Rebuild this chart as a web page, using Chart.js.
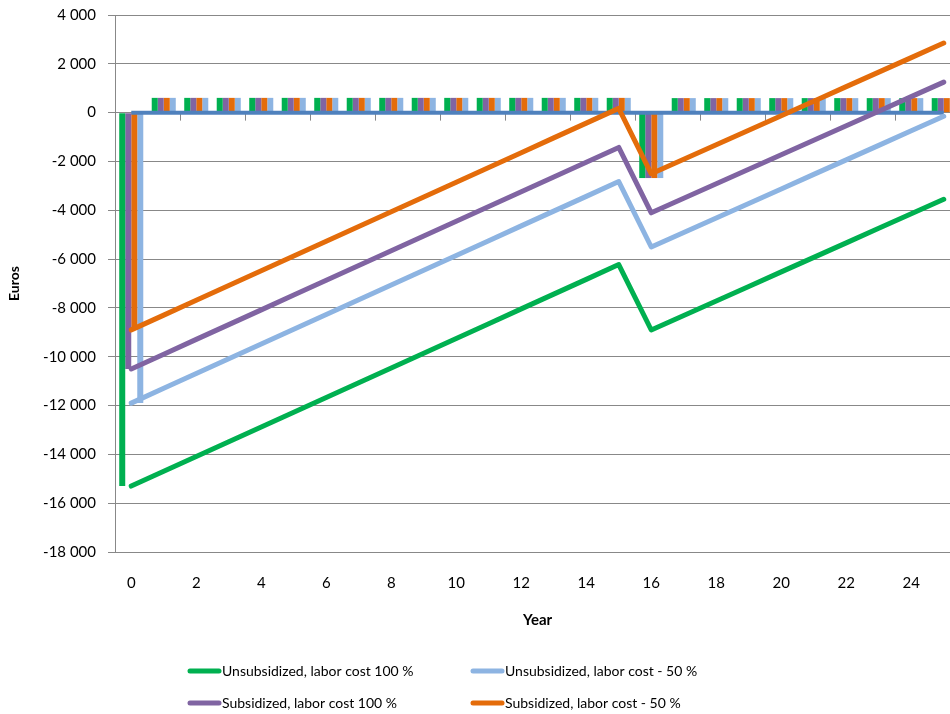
<!DOCTYPE html>
<html>
<head>
<meta charset="utf-8">
<script src="https://cdn.jsdelivr.net/npm/chart.js@4/dist/chart.umd.min.js"></script>
<style>
  html, body { margin: 0; padding: 0; background: #ffffff; overflow: hidden; }
  #wrap { width: 960px; height: 714px; }
</style>
</head>
<body>
<div id="wrap"><canvas id="chart" width="960" height="714"></canvas></div>
<script>
// Project years
const years = ['0','1','2','3','4','5','6','7','8','9','10','11','12','13','14','15','16','17','18','19','20','21','22','23','24','25'];

// Annual cash flow per scenario (euros)
const flowUnsub100 = [-15300,605,605,605,605,605,605,605,605,605,605,605,605,605,605,605,-2680,595,595,595,595,595,595,595,595,595];
const flowSub100   = [-10500,605,605,605,605,605,605,605,605,605,605,605,605,605,605,605,-2680,595,595,595,595,595,595,595,595,595];
const flowSub50    = [-8900,605,605,605,605,605,605,605,605,605,605,605,605,605,605,605,-2680,595,595,595,595,595,595,595,595,595];
const flowUnsub50  = [-11900,605,605,605,605,605,605,605,605,605,605,605,605,605,605,605,-2680,595,595,595,595,595,595,595,595,595];

// Cumulative cash position per scenario (euros)
const cumUnsub100 = [-15300,-14695,-14090,-13485,-12880,-12275,-11670,-11065,-10460,-9855,-9250,-8645,-8040,-7435,-6830,-6225,-8905,-8310,-7715,-7120,-6525,-5930,-5335,-4740,-4145,-3550];
const cumUnsub50  = [-11900,-11295,-10690,-10085,-9480,-8875,-8270,-7665,-7060,-6455,-5850,-5245,-4640,-4035,-3430,-2825,-5505,-4910,-4315,-3720,-3125,-2530,-1935,-1340,-745,-150];
const cumSub100   = [-10500,-9895,-9290,-8685,-8080,-7475,-6870,-6265,-5660,-5055,-4450,-3845,-3240,-2635,-2030,-1425,-4105,-3510,-2915,-2320,-1725,-1130,-535,60,655,1250];
const cumSub50    = [-8900,-8295,-7690,-7085,-6480,-5875,-5270,-4665,-4060,-3455,-2850,-2245,-1640,-1035,-430,175,-2505,-1910,-1315,-720,-125,470,1065,1660,2255,2850];

// Break-even reference
const breakEven = [0,0,0,0,0,0,0,0,0,0,0,0,0,0,0,0,0,0,0,0,0,0,0,0,0,0];

// Axis bounds and step
const yMin = -18000, yMax = 4000, yStep = 2000;

const GREEN = '#00B050', PURPLE = '#8064A2', ORANGE = '#E46C0A', LIGHTBLUE = '#8DB4E2', STEEL = '#4F81BD';
const GRID = '#888888';
const FONT = 'Lato, "Open Sans", sans-serif';

function fmt(v) {
  const s = Math.abs(v).toString().replace(/\B(?=(\d{3})+(?!\d))/g, ' ');
  return (v < 0 ? '-' : '') + s;
}

function barSet(data, color) {
  return { type: 'bar', data, backgroundColor: color, borderWidth: 0, order: 3,
           categoryPercentage: 0.74, barPercentage: 1.0, inLegend: false };
}
function lineSet(label, data, color) {
  return { type: 'line', label, data, borderColor: color, backgroundColor: color, borderWidth: 5,
           pointRadius: 0, tension: 0, fill: false, borderCapStyle: 'round', borderJoinStyle: 'round',
           order: 0, inLegend: true };
}

// Small tick marks on the break-even line, every two years between categories
const zeroTicks = {
  id: 'zeroTicks',
  beforeDatasetsDraw(chart) {
    const { ctx, scales: { x, y } } = chart;
    const y0 = y.getPixelForValue(0);
    ctx.save();
    ctx.strokeStyle = GRID;
    ctx.lineWidth = 1;
    for (let i = 1; i < years.length - 1; i += 2) {
      const px = Math.round((x.getPixelForTick(i) + x.getPixelForTick(i + 1)) / 2) + 0.5;
      ctx.beginPath();
      ctx.moveTo(px, y0);
      ctx.lineTo(px, y0 + 8);
      ctx.stroke();
    }
    ctx.restore();
  }
};

// Two-column legend below the axis
const gridLegend = {
  id: 'gridLegend',
  afterDraw(chart) {
    const { ctx } = chart;
    const items = chart.data.datasets.filter(d => d.inLegend);
    const cols = [188, 471], rows = [671, 703];
    ctx.save();
    ctx.font = '14px ' + FONT;
    ctx.textBaseline = 'middle';
    ctx.textAlign = 'left';
    items.forEach((d, i) => {
      const cx = cols[i % 2], cy = rows[Math.floor(i / 2)];
      ctx.strokeStyle = d.borderColor;
      ctx.lineWidth = 5;
      ctx.lineCap = 'round';
      ctx.beginPath();
      ctx.moveTo(cx + 2, cy);
      ctx.lineTo(cx + 31, cy);
      ctx.stroke();
      ctx.fillStyle = '#000000';
      ctx.fillText(d.label, cx + 34, cy);
    });
    ctx.restore();
  }
};

new Chart(document.getElementById('chart'), {
  type: 'bar',
  data: {
    labels: years,
    datasets: [
      lineSet('Unsubsidized, labor cost 100 %', cumUnsub100, GREEN),
      lineSet('Unsubsidized, labor cost - 50 %', cumUnsub50, LIGHTBLUE),
      lineSet('Subsidized, labor cost 100 %', cumSub100, PURPLE),
      lineSet('Subsidized, labor cost - 50 %', cumSub50, ORANGE),
      { type: 'line', data: breakEven, borderColor: STEEL, borderWidth: 4, pointRadius: 0,
        tension: 0, fill: false, borderCapStyle: 'butt', order: 1, inLegend: false },
      barSet(flowUnsub100, GREEN),
      barSet(flowSub100, PURPLE),
      barSet(flowSub50, ORANGE),
      barSet(flowUnsub50, LIGHTBLUE)
    ]
  },
  options: {
    responsive: false,
    devicePixelRatio: 1,
    animation: false,
    layout: { padding: { top: 15, right: 0, bottom: 0, left: 0 } },
    plugins: { legend: { display: false }, tooltip: { enabled: false } },
    scales: {
      x: {
        type: 'category',
        offset: true,
        grid: { display: false, drawTicks: false },
        border: { display: true, color: GRID, width: 1 },
        ticks: {
          autoSkip: false, maxRotation: 0, padding: 22,
          color: '#000000', font: { family: FONT, size: 15 },
          callback(val, idx) { return idx % 2 === 0 ? this.getLabelForValue(val) : ''; }
        },
        title: { display: true, text: 'Year', color: '#000000',
                 font: { family: FONT, size: 15, weight: 'bold' }, padding: { top: 0, bottom: 85 } },
        afterFit(scale) { scale.height = 162; scale.paddingLeft = 0; scale.paddingRight = 0; }
      },
      y: {
        min: yMin, max: yMax,
        grid: { color: GRID, lineWidth: 1, drawTicks: true, tickLength: 7, tickColor: GRID },
        border: { display: true, color: GRID, width: 1 },
        ticks: { stepSize: yStep, padding: 12, color: '#000000',
                 font: { family: FONT, size: 15 }, callback: v => fmt(v) },
        title: { display: true, text: 'Euros', color: '#000000',
                 font: { family: FONT, size: 14, weight: 'bold' }, padding: { top: 6, bottom: 0 } },
        afterFit(scale) { scale.width = 115; scale.paddingTop = 0; scale.paddingBottom = 0; }
      }
    }
  },
  plugins: [zeroTicks, gridLegend]
});
</script>
</body>
</html>
